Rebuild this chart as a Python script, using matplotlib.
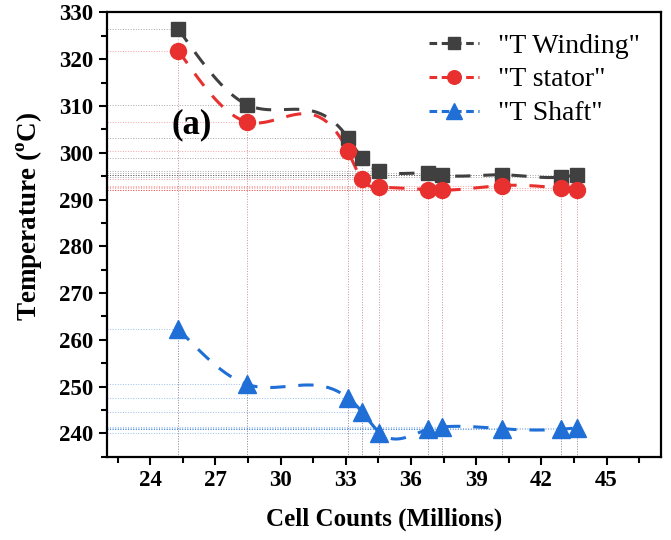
import numpy as np
import matplotlib
matplotlib.use('Agg')
import matplotlib.pyplot as plt
from matplotlib.ticker import MultipleLocator

# data
cells = [25.3, 28.45, 33.1, 33.75, 34.55, 36.8, 37.45, 40.2, 42.9, 43.65]
t_winding = [326.4, 310.3, 303.2, 298.8, 296.2, 295.6, 295.2, 295.3, 294.8, 295.3]
t_stator = [321.8, 306.6, 300.3, 294.3, 292.6, 292.1, 292.0, 293.0, 292.4, 292.0]
t_shaft = [262.3, 250.5, 247.6, 244.6, 240.2, 240.9, 241.4, 241.0, 240.9, 241.2]

labels = ['"T Winding"', '"T stator"', '"T Shaft"']
colors = ['#404040', '#e8302f', '#1f6fd6']
markers = ['s', 'o', '^']
msizes = [10, 11.5, 13]

plt.rcParams['font.family'] = 'Liberation Serif'
plt.rcParams['mathtext.fontset'] = 'custom'
plt.rcParams['mathtext.rm'] = 'Liberation Serif'
plt.rcParams['mathtext.bf'] = 'Liberation Serif:bold'


def natural_spline(x, y, n=400):
    # natural cubic spline, only used to draw the smooth connecting curve
    x = np.asarray(x, float)
    y = np.asarray(y, float)
    k = len(x)
    h = np.diff(x)
    A = np.zeros((k, k))
    b = np.zeros(k)
    A[0, 0] = 1
    A[-1, -1] = 1
    for i in range(1, k - 1):
        A[i, i - 1] = h[i - 1]
        A[i, i] = 2 * (h[i - 1] + h[i])
        A[i, i + 1] = h[i]
        b[i] = 6 * ((y[i + 1] - y[i]) / h[i] - (y[i] - y[i - 1]) / h[i - 1])
    M = np.linalg.solve(A, b)
    xs = np.linspace(x[0], x[-1], n)
    idx = np.clip(np.searchsorted(x, xs) - 1, 0, k - 2)
    x0, x1 = x[idx], x[idx + 1]
    hh = x1 - x0
    ys = (M[idx] * (x1 - xs) ** 3 / (6 * hh) + M[idx + 1] * (xs - x0) ** 3 / (6 * hh)
          + (y[idx] / hh - M[idx] * hh / 6) * (x1 - xs)
          + (y[idx + 1] / hh - M[idx + 1] * hh / 6) * (xs - x0))
    return xs, ys


xmin, xmax = 22, 47.5
ymin, ymax = 235, 330

fig = plt.figure(figsize=(6.71, 5.4), dpi=100)
ax = fig.add_axes([0.159, 0.154, 0.826, 0.823])

series = [t_winding, t_stator, t_shaft]
for vals, lab, c, m, ms in zip(series, labels, colors, markers, msizes):
    ax.vlines(cells, ymin, vals, colors=c, linestyles=':', lw=0.7, alpha=0.3, zorder=1)
    ax.hlines(vals, xmin, cells, colors=c, linestyles=':', lw=0.7, alpha=0.45, zorder=1)
    xs, ys = natural_spline(cells, vals)
    ax.plot(xs, ys, color=c, lw=2.2, dashes=(5, 4.2), zorder=2)
    ax.plot(cells, vals, linestyle='none', marker=m, ms=ms, color=c, zorder=3)
    # legend proxy
    ax.plot([], [], color=c, lw=2.2, dashes=(2.5, 1.5), marker=m, ms=ms * 0.85, label=lab)

ax.text(25.9, 305.9, '(a)', fontsize=25, fontweight='bold', ha='center', va='center')

ax.set_xlim(xmin, xmax)
ax.set_ylim(ymin, ymax)
ax.xaxis.set_major_locator(MultipleLocator(3))
ax.xaxis.set_minor_locator(MultipleLocator(1.5))
ax.yaxis.set_major_locator(MultipleLocator(10))
ax.yaxis.set_minor_locator(MultipleLocator(5))
ax.tick_params(which='both', direction='out', width=1.5, labelsize=16.5)
ax.tick_params(which='major', length=6)
ax.tick_params(which='minor', length=4)
for t in ax.get_xticklabels() + ax.get_yticklabels():
    t.set_fontweight('bold')
for s in ax.spines.values():
    s.set_linewidth(1.6)

ax.set_xlabel('Cell Counts (Millions)', fontsize=18, fontweight='bold', labelpad=12)
ax.set_ylabel(r'Temperature ($^{\mathbf{o}}$C)', fontsize=19.5, fontweight='bold')
ax.yaxis.set_label_coords(-0.113, 0.542)

ax.legend(loc='upper right', frameon=False, fontsize=20, handlelength=1.8,
          labelspacing=0.3, handletextpad=0.7, borderaxespad=0.35)

fig.savefig('out.png', dpi=100)
